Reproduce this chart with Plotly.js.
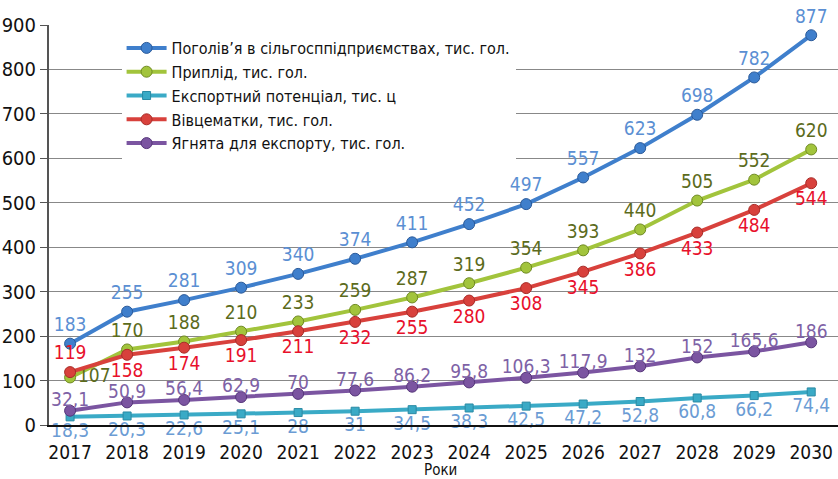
<!DOCTYPE html>
<html><head><meta charset="utf-8">
<script src="https://cdn.plot.ly/plotly-3.0.1.min.js"></script>
<style>html,body{margin:0;padding:0;background:#fff}#chart{width:838px;height:479px}</style>
</head><body><div id="chart"></div>
<script>
const years = [2017,2018,2019,2020,2021,2022,2023,2024,2025,2026,2027,2028,2029,2030];
const seriesNames = [
  "Поголів’я в сільгосппідприємствах, тис. гол.",
  "Приплід, тис. гол.",
  "Експортний потенціал, тис. ц",
  "Вівцематки, тис. гол.",
  "Ягнята для експорту, тис. гол."
];
const headcount = [183,255,281,309,340,374,411,452,497,557,623,698,782,877];
const offspring = [107,170,188,210,233,259,287,319,354,393,440,505,552,620];
const exportPotential = [18.3,20.3,22.6,25.1,28,31,34.5,38.3,42.5,47.2,52.8,60.8,66.2,74.4];
const ewes = [119,158,174,191,211,232,255,280,308,345,386,433,484,544];
const lambsExport = [32.1,50.9,56.4,62.9,70,77.6,86.2,95.8,106.3,117.9,132,152,165.6,186];
const yTicks = [0,100,200,300,400,500,600,700,800,900];
const xTitle = 'Роки';

const FONT = '"DejaVu Sans Condensed","Liberation Sans Narrow",sans-serif';
const fmt = v => String(v).replace('.', ',');

function tr(name, y, lineColor, mColor, mLine, textColor, pos, symbol, msize) {
  return {
    x: years, y: y, name: name, type: 'scatter', mode: 'lines+markers+text',
    line: {color: lineColor, width: 4},
    marker: {color: mColor, size: msize, symbol: symbol, line: {color: mLine, width: 1}},
    text: y.map(fmt), textposition: pos,
    textfont: {family: FONT, size: 19, color: textColor},
    cliponaxis: false
  };
}

const greenPos = offspring.map((v,i) => i === 0 ? 'middle right' : 'top center');
const redPos = ewes.map((v,i) => i === 0 ? 'top center' : 'bottom center');

const purple = tr(seriesNames[4], lambsExport, '#7b55a1', '#7b55a1', '#56367a', '#7e62a6', 'top center', 'circle', 11);
purple.mode = 'lines+markers';
const purpleText = {
  x: years, y: lambsExport, type: 'scatter', mode: 'text', showlegend: false,
  text: lambsExport.map(fmt), textposition: 'top center',
  textfont: {family: FONT, size: 19, color: '#7e62a6'}, cliponaxis: false, hoverinfo: 'skip'
};

const data = [
  tr(seriesNames[0], headcount, '#3f7fcc', '#3f7fcc', '#2a5a9a', '#5b8fd3', 'top center', 'circle', 11),
  tr(seriesNames[1], offspring, '#a2c43c', '#a2c43c', '#6f8a22', '#5c6b1c', greenPos, 'circle', 11),
  tr(seriesNames[2], exportPotential, '#3aaac6', '#3aaac6', '#2a8aa4', '#6b9cd4', 'bottom center', 'square', 8),
  tr(seriesNames[3], ewes, '#d8413c', '#d8413c', '#a82c28', '#e8102b', redPos, 'circle', 11),
  purple, purpleText
];

const layout = {
  width: 838, height: 479,
  margin: {l: 49, r: 0, t: 25, b: 54},
  paper_bgcolor: '#fff', plot_bgcolor: '#fff',
  font: {family: FONT, color: '#111'},
  showlegend: true,
  legend: {
    x: 0.092, y: 0.985, xanchor: 'left', yanchor: 'top',
    bgcolor: '#ffffff', font: {family: FONT, size: 16, color: '#111'},
    tracegroupgap: 0, itemwidth: 40
  },
  xaxis: {
    range: [2016.63, 2030.47], tickmode: 'array', tickvals: years,
    ticktext: years.map(String), showgrid: false, zeroline: false,
    showline: true, linecolor: '#111', linewidth: 1.5,
    ticks: '', ticklabelstandoff: 10, tickfont: {family: FONT, size: 19, color: '#111'}
  },
  yaxis: {
    range: [0, 900], tickmode: 'array', tickvals: yTicks,
    showgrid: true, gridcolor: '#888', gridwidth: 1, zeroline: false,
    showline: true, linecolor: '#555', linewidth: 2,
    ticks: 'outside', ticklen: 7, tickcolor: '#555',
    tickfont: {family: FONT, size: 20, color: '#111'}
  },
  annotations: [{
    text: xTitle, xref: 'paper', yref: 'paper', x: 0.4956, y: 0,
    xanchor: 'center', yanchor: 'top', yshift: -34, showarrow: false,
    font: {family: FONT, size: 15, color: '#111'}
  }]
};
Plotly.newPlot('chart', data, layout, {displayModeBar: false, staticPlot: true});
</script></body></html>
